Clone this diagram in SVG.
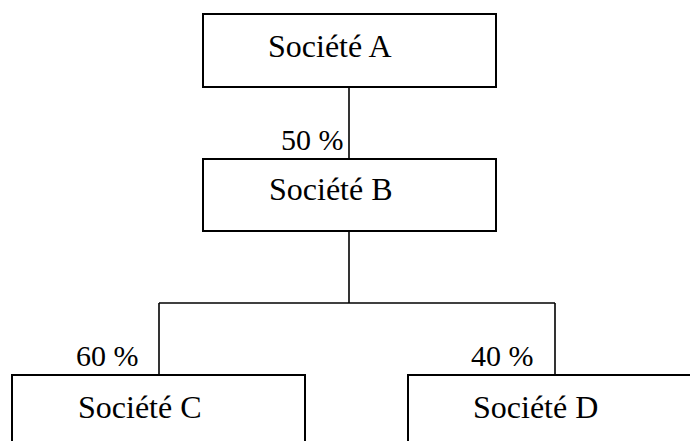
<svg xmlns="http://www.w3.org/2000/svg" width="690" height="441" viewBox="0 0 690 441">
<style>
.box{fill:#fff;stroke:#000;stroke-width:2}
.ln{fill:none;stroke:#000;stroke-width:1.6}
.t{font-family:"Liberation Serif","Times New Roman",serif;font-size:32px;fill:#000}
.p{font-family:"Liberation Serif","Times New Roman",serif;font-size:30px;fill:#000}
</style>
<rect width="690" height="441" fill="#fff"/>
<g id="connectors">
<line class="ln" x1="349" y1="87" x2="349" y2="159"/>
<line class="ln" x1="349" y1="231" x2="349" y2="303"/>
<line class="ln" x1="159" y1="303" x2="555" y2="303"/>
<line class="ln" x1="159" y1="303" x2="159" y2="375"/>
<line class="ln" x1="555" y1="303" x2="555" y2="375"/>
<text class="p" x="281" y="150">50 %</text>
<text class="p" x="76" y="366">60 %</text>
<text class="p" x="471" y="366">40 %</text>
</g>
<g id="societeA">
<rect class="box" x="203" y="14" width="293" height="73"/>
<text class="t" x="268" y="57">Société A</text>
</g>
<g id="societeB">
<rect class="box" x="203" y="159" width="293" height="72"/>
<text class="t" x="269" y="200">Société B</text>
</g>
<g id="societeC">
<rect class="box" x="12" y="375" width="293" height="80"/>
<text class="t" x="78" y="418">Société C</text>
</g>
<g id="societeD">
<rect class="box" x="408" y="375" width="300" height="80"/>
<text class="t" x="473" y="418">Société D</text>
</g>
</svg>
